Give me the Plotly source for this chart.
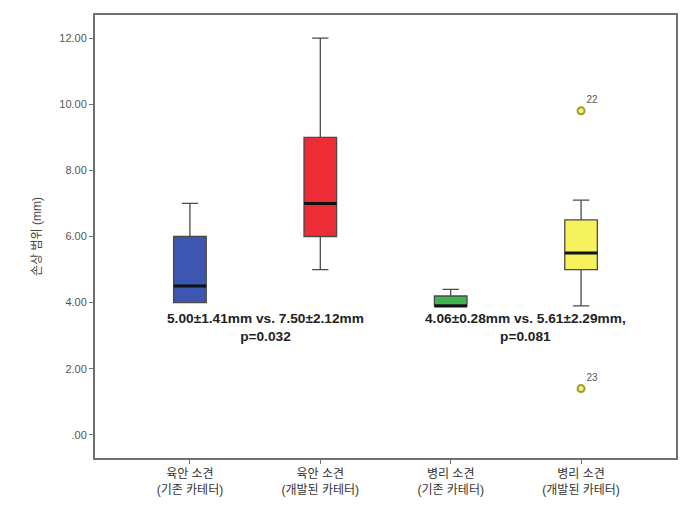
import plotly.graph_objects as go

# groups on the x axis
groups = ["육안 소견<br>(기존 카테터)", "육안 소견<br>(개발된 카테터)",
          "병리 소견<br>(기존 카테터)", "병리 소견<br>(개발된 카테터)"]
colors = ["#3d56b2", "#ee2c36", "#3fb54c", "#f6f25e"]

# box statistics
lower = [4.0, 5.0, 3.9, 3.9]
q1 = [4.0, 6.0, 3.9, 5.0]
median = [4.5, 7.0, 3.9, 5.5]
q3 = [6.0, 9.0, 4.2, 6.5]
upper = [7.0, 12.0, 4.4, 7.1]

# outliers of the last group
outlier_vals = [9.8, 1.4]
outlier_ids = ["22", "23"]

y_ticks = [0, 2, 4, 6, 8, 10, 12]
y_labels = [".00", "2.00", "4.00", "6.00", "8.00", "10.00", "12.00"]

notes = ["5.00±1.41mm vs. 7.50±2.12mm<br>p=0.032",
         "4.06±0.28mm vs. 5.61±2.29mm,<br>p=0.081"]
note_x = [0.58, 2.57]
note_y = [3.25, 3.25]

box_w = 0.25
font_family = "Arial, Liberation Sans, Noto Sans CJK KR"

fig = go.Figure()

for i, g in enumerate(groups):
    fig.add_trace(go.Box(
        x=[g], q1=[q1[i]], median=[median[i]], q3=[q3[i]],
        lowerfence=[lower[i]], upperfence=[upper[i]],
        width=box_w, whiskerwidth=0.5,
        fillcolor=colors[i], line=dict(color="#4a4a4a", width=1.3),
        boxpoints=False, showlegend=False, hoverinfo="skip"))

# thicker dark median lines
for i, m in enumerate(median):
    fig.add_shape(type="line", xref="x", yref="y",
                  x0=i - box_w / 2, x1=i + box_w / 2, y0=m, y1=m,
                  line=dict(color="#111111", width=3))

fig.add_trace(go.Scatter(
    x=[groups[3]] * len(outlier_vals), y=outlier_vals,
    mode="markers+text", text=outlier_ids, textposition="top right",
    textfont=dict(size=10, color="#555555", family=font_family),
    marker=dict(size=7, color="#f2ef7a", line=dict(color="#9c9c2e", width=2)),
    showlegend=False, hoverinfo="skip"))

for t, x, y in zip(notes, note_x, note_y):
    fig.add_annotation(x=x, y=y, xref="x", yref="y", text="<b>" + t + "</b>",
                       showarrow=False, align="center",
                       font=dict(size=13.7, color="#222222", family=font_family))

# page body has an 8px margin, so the figure is a little smaller than the window
fig.update_layout(
    width=685, height=500,
    margin=dict(l=87, r=17, t=7, b=50),
    paper_bgcolor="white", plot_bgcolor="white",
    boxmode="overlay",
    font=dict(family=font_family, color="#444444"),
)
fig.update_xaxes(
    range=[-0.728, 3.728], showgrid=False, zeroline=False, automargin=False,
    showline=True, mirror=True, linecolor="#707070", linewidth=2,
    ticks="outside", ticklen=4, tickcolor="#707070",
    tickfont=dict(size=12, color="#333333"),
)
fig.update_yaxes(
    range=[-0.7, 12.7], showgrid=False, zeroline=False, automargin=False,
    showline=True, mirror=True, linecolor="#707070", linewidth=2,
    ticks="outside", ticklen=4, tickcolor="#707070",
    tickvals=y_ticks, ticktext=y_labels,
    tickfont=dict(size=11, color="#555555"),
    title=dict(text="손상 범위 (mm)", font=dict(size=12, color="#444444")),
)

fig.write_html("out.html")
